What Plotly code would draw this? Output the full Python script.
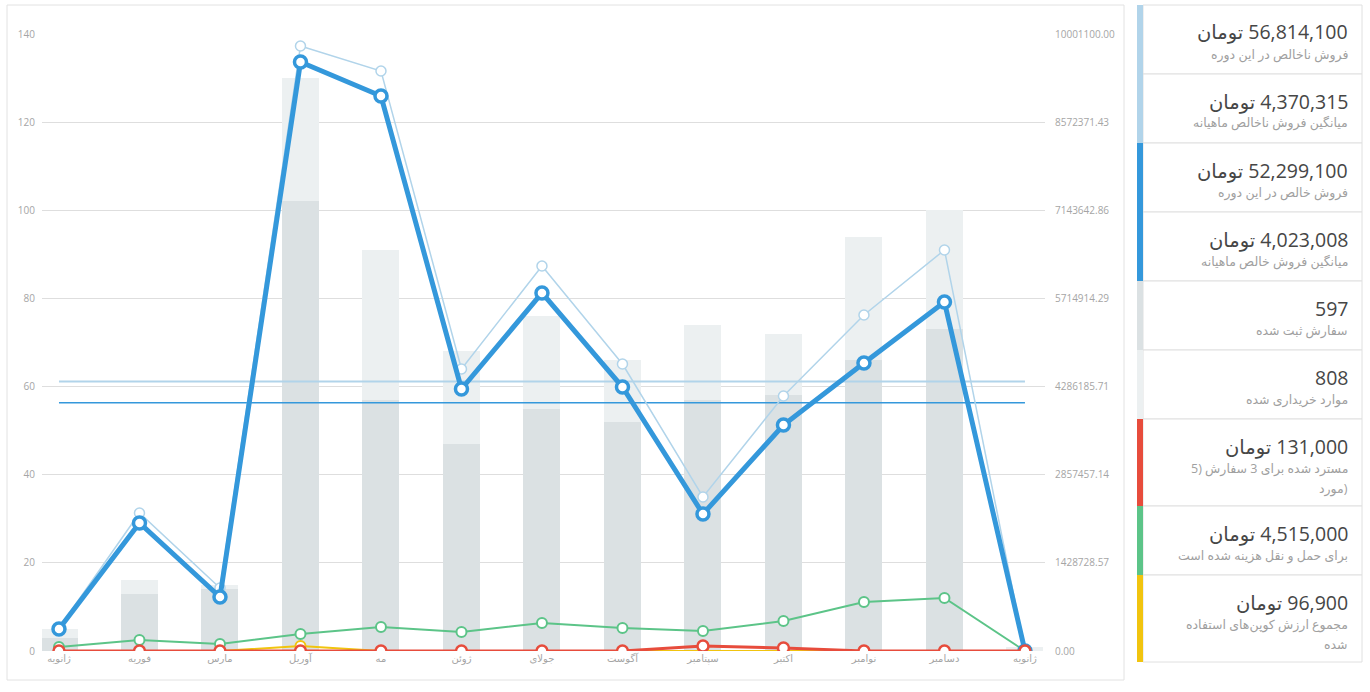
import plotly.graph_objects as go

# monthly report data
months = ["ژانویه", "فوریه", "مارس", "آوریل", "مه", "ژوئن", "جولای",
          "آگوست", "سپتامبر", "اکتبر", "نوامبر", "دسامبر", "ژانویه"]
items_bought = [5, 16, 15, 130, 91, 68, 76, 66, 74, 72, 94, 100, 1]
orders_placed = [3, 13, 14, 102, 57, 47, 55, 52, 57, 58, 66, 73, 0]
gross_sales = [372800, 2236900, 1021000, 9806600, 9401400, 4571000, 6240600,
               4652000, 2496200, 4133000, 5446300, 6500000, 0]
net_sales = [356600, 2075000, 875000, 9547000, 8996000, 4247000, 5803000,
             4279000, 2221000, 3663000, 4668000, 5657000, 0]
shipping = [65000, 178000, 113000, 275000, 389000, 308000, 454000,
            373000, 324000, 486000, 794000, 859000, 0]
refunds = [0, 0, 0, 0, 0, 0, 0, 0, 81000, 50000, 0, 0, 0]
coupons = [0, 0, 0, 80000, 0, 0, 0, 0, 9000, 7900, 0, 0, 0]
gross_avg = 4370315
net_avg = 4023008

left_ticks = [0, 20, 40, 60, 80, 100, 120, 140]
right_max = 10001100
right_tick_labels = ["0.00", "1428728.57", "2857457.14", "4286185.71",
                     "5714914.29", "7143642.86", "8572371.43", "10001100.00"]

# legend panel
legend_values = ["56,814,100", "4,370,315", "52,299,100", "4,023,008", "597",
                 "808", "131,000", "4,515,000", "96,900"]
legend_toman = [True, True, True, True, False, False, True, True, True]
legend_desc = [
    ["فروش ناخالص در این دوره"],
    ["میانگین فروش ناخالص ماهیانه"],
    ["فروش خالص در این دوره"],
    ["میانگین فروش خالص ماهیانه"],
    ["سفارش ثبت شده"],
    ["موارد خریداری شده"],
    ["مسترد شده برای 3 سفارش (5", "مورد)"],
    ["برای حمل و نقل هزینه شده است"],
    ["مجموع ارزش کوپن‌های استفاده", "شده"],
]
legend_colors = ["#b1d4ea", "#b1d4ea", "#3498db", "#3498db", "#dbe1e3",
                 "#ecf0f1", "#e74c3c", "#5cc488", "#f1c40f"]

W, H = 1370, 692
L, R, T, B = 42, 325, 34, 41
PW, PH = W - L - R, H - T - B


def px(x):
    return (x - L) / PW


def py(y):
    return (H - B - y) / PH


FONT = "Open Sans, DejaVu Sans, sans-serif"
xs = list(range(len(months)))

fig = go.Figure()
fig.add_trace(go.Bar(x=xs, y=items_bought, marker_color="#ecf0f1", width=0.46,
                     marker_line_width=0))
fig.add_trace(go.Bar(x=xs, y=orders_placed, marker_color="#dbe1e3", width=0.46,
                     marker_line_width=0))


def line(y, color, width, msize, mline):
    return go.Scatter(
        x=xs, y=y, yaxis="y2", mode="lines+markers",
        line=dict(color=color, width=width),
        marker=dict(size=msize, color="white", line=dict(color=color, width=mline)),
    )


fig.add_trace(line(coupons, "#f1c40f", 2, 10, 2))
fig.add_trace(line(shipping, "#5cc488", 2, 10, 2))
fig.add_trace(go.Scatter(x=[xs[0], xs[-1]], y=[gross_avg, gross_avg], yaxis="y2",
                         mode="lines", line=dict(color="#b1d4ea", width=2)))
fig.add_trace(go.Scatter(x=[xs[0], xs[-1]], y=[net_avg, net_avg], yaxis="y2",
                         mode="lines", line=dict(color="#3498db", width=1.5)))
fig.add_trace(line(gross_sales, "#b1d4ea", 1.5, 10, 1.5))
fig.add_trace(line(net_sales, "#3498db", 5, 12, 3.5))
fig.add_trace(line(refunds, "#e74c3c", 3, 11, 2.5))

shapes = [dict(type="rect", xref="paper", yref="paper", layer="below",
               x0=px(7), x1=px(1124), y0=py(680), y1=py(5),
               line=dict(color="#e2e2e2", width=1), fillcolor="white")]
annotations = []

top = 5
for i, val in enumerate(legend_values):
    h = 69 if len(legend_desc[i]) == 1 else 87
    shapes.append(dict(type="rect", xref="paper", yref="paper",
                       x0=px(1143), x1=px(1362), y0=py(top + h), y1=py(top),
                       line=dict(color="#e0e0e0", width=1), fillcolor="white"))
    shapes.append(dict(type="rect", xref="paper", yref="paper",
                       x0=px(1137), x1=px(1143), y0=py(top + h), y1=py(top),
                       line=dict(width=0), fillcolor=legend_colors[i]))
    txt = "تومان\u200e " + val if legend_toman[i] else val
    annotations.append(dict(xref="paper", yref="paper", x=px(1349), y=py(top + 27),
                            xanchor="right", yanchor="middle", showarrow=False,
                            borderpad=0,
                            text=txt, font=dict(family=FONT, size=19.5, color="#464646")))
    for j, d in enumerate(legend_desc[i]):
        annotations.append(dict(xref="paper", yref="paper", x=px(1349),
                                y=py(top + 49 + 20 * j), xanchor="right",
                                yanchor="middle", showarrow=False, text=d,
                                borderpad=0,
                                font=dict(family=FONT, size=12.5, color="#a0a0a0")))
    top += h

fig.update_layout(
    width=W, height=H,
    margin=dict(l=L, r=R, t=T, b=B),
    paper_bgcolor="white", plot_bgcolor="white",
    showlegend=False, barmode="overlay", bargap=0,
    font=dict(family=FONT, size=10, color="#aaaaaa"),
    xaxis=dict(range=[-0.211, 12.249], tickvals=xs, ticktext=months,
               showgrid=False, zeroline=False, showline=False, ticks="",
               tickfont=dict(size=10, color="#a5a5a5"), fixedrange=True),
    yaxis=dict(range=[0, 140], tickvals=left_ticks, showgrid=True,
               gridcolor="#dedede", gridwidth=1, zeroline=False, ticks="",
               tickfont=dict(size=10, color="#a5a5a5"), ticklabelstandoff=6),
    yaxis2=dict(range=[0, right_max], overlaying="y", side="right",
                tickvals=[right_max * k / 7 for k in range(8)],
                ticktext=right_tick_labels, showgrid=False, zeroline=False,
                ticks="", tickfont=dict(size=10, color="#a5a5a5"),
                ticklabelstandoff=9),
    shapes=shapes, annotations=annotations,
)

# drop the default page margin so the figure sits at the window's corner
fig.write_html("out.html",
               config={"displayModeBar": False},
               post_script="document.body.style.margin='0px';"
                           "document.body.style.overflow='hidden';")
